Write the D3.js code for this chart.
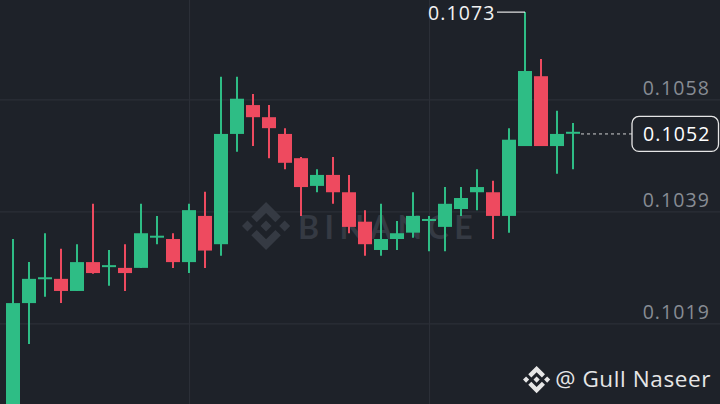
<!DOCTYPE html>
<html><head><meta charset="utf-8">
<script src="https://cdn.jsdelivr.net/npm/d3@7"></script>
<style>html,body{margin:0;padding:0;background:#1e2229;overflow:hidden}svg{display:block}</style>
</head><body>
<svg id="c" width="720" height="404"></svg>
<script>
// ---- data ----
const opens  = [0.10010,0.10229,0.10271,0.10271,0.10250,0.10300,0.10291,0.10290,0.10290,0.10341,0.10340,0.10300,0.10380,0.10331,0.10522,0.10572,0.10551,0.10522,0.10480,0.10432,0.10451,0.10421,0.10370,0.10321,0.10340,0.10351,0.10370,0.10361,0.10392,0.10421,0.10421,0.10380,0.10501,0.10622,0.10501,0.10522];
const highs  = [0.10340,0.10300,0.10350,0.10323,0.10331,0.10401,0.10321,0.10331,0.10401,0.10380,0.10350,0.10401,0.10422,0.10621,0.10621,0.10591,0.10572,0.10532,0.10482,0.10461,0.10482,0.10451,0.10390,0.10401,0.10371,0.10421,0.10380,0.10430,0.10430,0.10461,0.10441,0.10532,0.10733,0.10652,0.10562,0.10541];
const lows   = [0.10000,0.10158,0.10240,0.10229,0.10250,0.10280,0.10259,0.10250,0.10290,0.10331,0.10290,0.10281,0.10290,0.10311,0.10491,0.10501,0.10480,0.10461,0.10380,0.10421,0.10401,0.10350,0.10311,0.10311,0.10321,0.10342,0.10319,0.10319,0.10380,0.10390,0.10340,0.10351,0.10501,0.10501,0.10453,0.10461];
const closes = [0.10229,0.10271,0.10272,0.10250,0.10300,0.10281,0.10293,0.10281,0.10350,0.10344,0.10300,0.10390,0.10320,0.10522,0.10583,0.10551,0.10532,0.10472,0.10430,0.10451,0.10421,0.10361,0.10331,0.10340,0.10350,0.10380,0.10373,0.10401,0.10411,0.10430,0.10380,0.10512,0.10631,0.10501,0.10522,0.10524];
const priceTicks = [0.10582, 0.10388, 0.10194];
const timeGridIndex = [11, 26];
const lastPrice = 0.10522;
const highPrice = 0.10733;
const highIndex = 32;
const credit = "@ Gull Naseer";
const watermark = "BINANCE";

// ---- styles ----
const BG = "#1e2229", GRID = "#2b2f37", UP = "#2ebd85", DOWN = "#ee4a5f", AXIS = "#878c94", WM = "#353a43";
const LOGO = "M38.73,53.2l24.59-24.58,24.6,24.6,14.3-14.31L63.32,0,24.43,38.9Z M0,63.31l14.3-14.31,14.31,14.31-14.31,14.3Z M38.73,73.41l24.59,24.59,24.6-24.6,14.31,14.29h0L63.32,126.61,24.43,87.72l0,0Z M98,63.31l14.3-14.31,14.31,14.3-14.31,14.32Z M77.83,63.3h0L63.32,48.78,52.59,59.51h0l-1.24,1.23-2.54,2.54h0l0,0,14.51,14.5,14.51-14.52h0Z";

const W = 720, H = 404;
const svg = d3.select("#c");
svg.append("rect").attr("width", W).attr("height", H).attr("fill", BG);

const data = opens.map((o, i) => ({i, o, h: highs[i], l: lows[i], c: closes[i]}));
const x = d3.scaleLinear().domain([0, data.length - 1]).range([13, 573]);
const y = d3.scaleLinear().domain([0.10194, 0.10582]).range([323.3, 99.3]);
const bodyW = 14;

// grid lines
const gGrid = svg.append("g").attr("transform", `translate(${W},0)`)
  .call(d3.axisLeft(y).tickValues(priceTicks).tickSize(W).tickFormat(""));
gGrid.select(".domain").remove();
gGrid.selectAll("line").attr("stroke", GRID).attr("stroke-width", 1.2);

const gV = svg.append("g").attr("transform", `translate(0,${H})`)
  .call(d3.axisBottom(x).tickValues(timeGridIndex).tickSize(-H).tickFormat(""));
gV.select(".domain").remove();
gV.selectAll("line").attr("stroke", GRID).attr("stroke-width", 1.2);

// watermark
const wm = svg.append("g");
wm.append("path").attr("d", LOGO).attr("fill", WM)
  .attr("transform", "translate(242,202) scale(0.38)");
wm.append("text").attr("x", 298).attr("y", 239).text(watermark)
  .attr("fill", WM).attr("font-family", "Lato, 'Open Sans', sans-serif")
  .attr("font-weight", 700).attr("font-size", 32).attr("letter-spacing", 5.5);

// candles
const g = svg.append("g");
const cs = g.selectAll("g.c").data(data).join("g").attr("class", "c");
cs.append("line")
  .attr("x1", d => x(d.i)).attr("x2", d => x(d.i))
  .attr("y1", d => y(d.h)).attr("y2", d => y(d.l))
  .attr("stroke", d => d.c >= d.o ? UP : DOWN).attr("stroke-width", 2);
cs.append("rect")
  .attr("x", d => x(d.i) - bodyW / 2).attr("width", bodyW)
  .attr("y", d => Math.min(y(d.o), y(d.c)) - (Math.abs(y(d.o) - y(d.c)) < 2 ? 1 : 0))
  .attr("height", d => Math.max(2, Math.abs(y(d.o) - y(d.c))))
  .attr("fill", d => d.c >= d.o ? UP : DOWN);

// price axis labels
const fmt = d3.format(".4f");
const gA = svg.append("g").attr("transform", "translate(709,0)")
  .call(d3.axisLeft(y).tickValues(priceTicks).tickSize(0).tickPadding(0).tickFormat(fmt));
gA.select(".domain").remove();
gA.selectAll("text").attr("fill", AXIS).attr("font-family", "'Open Sans', sans-serif")
  .attr("font-size", 19.5).attr("letter-spacing", 1.1).attr("dy", "-0.27em").attr("dx", 1.1);

// high marker
const hx = x(highIndex), hy = y(highPrice);
svg.append("line").attr("x1", hx).attr("x2", 497).attr("y1", hy).attr("y2", hy)
  .attr("stroke", "#e8e8e8").attr("stroke-width", 1.2);
svg.append("text").attr("x", 495.5).attr("y", hy + 8).attr("text-anchor", "end")
  .attr("fill", "#f2f2f2").attr("font-family", "'Open Sans', sans-serif")
  .attr("font-size", 19.5).attr("letter-spacing", 1.1).text(fmt(highPrice));

// last price line + label
const ly = y(lastPrice);
svg.append("line").attr("x1", x(data.length - 1) + 8).attr("x2", 632).attr("y1", ly).attr("y2", ly)
  .attr("stroke", "#d0d0d0").attr("stroke-width", 1).attr("stroke-dasharray", "3,3");
svg.append("rect").attr("x", 632).attr("y", ly - 17.5).attr("width", 86.5).attr("height", 35)
  .attr("rx", 7).attr("fill", BG).attr("stroke", "#e6e6e6").attr("stroke-width", 1.3);
svg.append("text").attr("x", 710.5).attr("y", ly + 7).attr("text-anchor", "end")
  .attr("fill", "#ffffff").attr("font-family", "'Open Sans', sans-serif")
  .attr("font-size", 19.5).attr("letter-spacing", 1.1).text(fmt(lastPrice));

// credit
svg.append("path").attr("d", LOGO).attr("fill", "#e6e6e6")
  .attr("transform", "translate(523,366) scale(0.215)");
svg.append("text").attr("x", 711).attr("y", 387).attr("text-anchor", "end")
  .attr("fill", "#e6e6e6").attr("font-family", "'Open Sans', sans-serif")
  .attr("font-size", 22.5).attr("letter-spacing", 0.6).text(credit);
</script>
</body></html>
